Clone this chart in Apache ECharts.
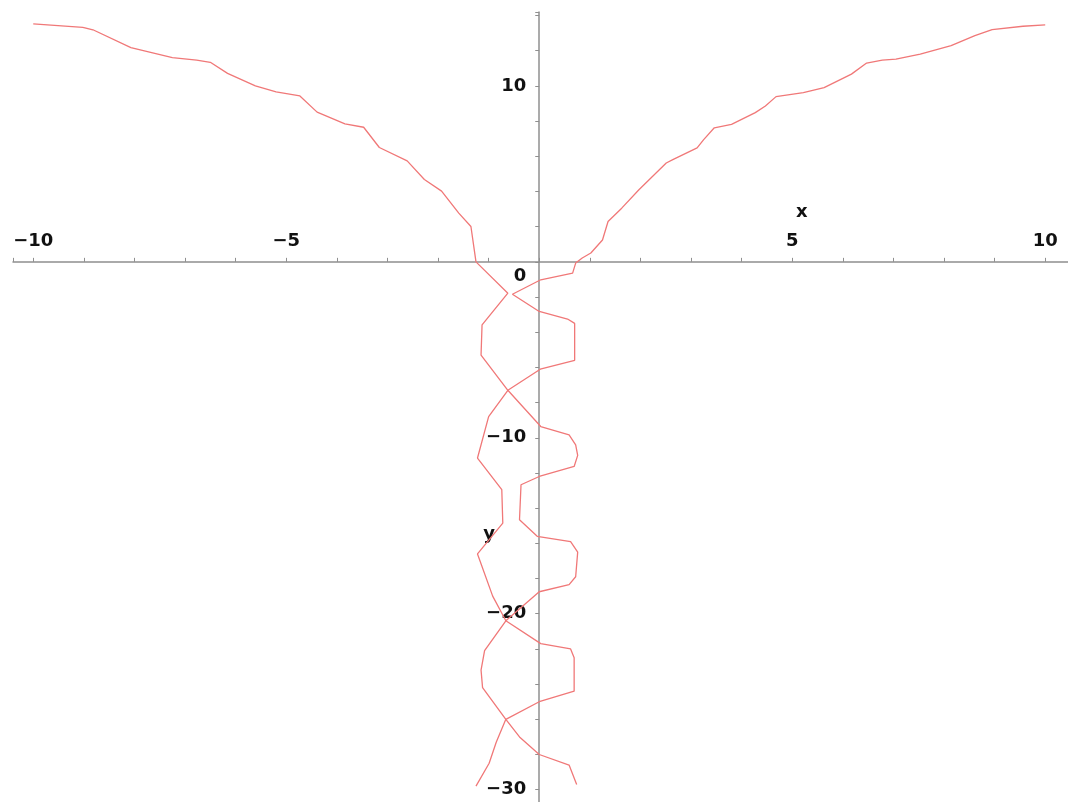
<!DOCTYPE html>
<html>
<head>
<meta charset="utf-8">
<script src="https://cdn.jsdelivr.net/npm/echarts@6/dist/echarts.min.js"></script>
<style>
  html, body { margin: 0; padding: 0; background: #fff; }
  #chart { width: 1068px; height: 802px; }
</style>
</head>
<body>
<div id="chart"></div>
<script>
// strand coming in from the upper left
const leftX = [-10, -9.02, -8.82, -8.07, -7.25, -6.77, -6.5, -6.16, -5.61, -5.2, -4.73, -4.39, -3.84, -3.47, -3.16, -2.61, -2.27, -1.93, -1.59, -1.35, -1.25, -0.62, -1.13, -1.15, -0.62, 0.03, 0.59, 0.72, 0.76, 0.69, 0.0, -0.36, -0.39, -0.04, 0.62, 0.76, 0.72, 0.59, 0.0, -0.66, -1.08, -1.15, -1.12, -0.66, -0.39, 0.0, 0.59, 0.74];
const leftY = [13.52, 13.33, 13.19, 12.18, 11.61, 11.47, 11.34, 10.71, 10.0, 9.66, 9.43, 8.51, 7.84, 7.65, 6.5, 5.74, 4.68, 4.02, 2.77, 2.01, 0.0, -1.78, -3.58, -5.3, -7.3, -9.36, -9.83, -10.4, -11.0, -11.63, -12.2, -12.67, -14.66, -15.6, -15.9, -16.5, -17.9, -18.35, -18.75, -20.4, -22.1, -23.2, -24.2, -26.0, -27.0, -28.0, -28.6, -29.7];

// strand coming in from the upper right
const rightX = [10, 9.56, 8.95, 8.61, 8.14, 7.53, 7.05, 6.78, 6.47, 6.17, 5.63, 5.22, 4.68, 4.47, 4.27, 3.8, 3.46, 3.25, 3.12, 2.64, 2.51, 1.97, 1.63, 1.36, 1.25, 1.02, 0.85, 0.72, 0.66, 0.03, -0.53, 0.0, 0.56, 0.7, 0.7, 0.02, -0.62, -1.0, -1.22, -0.74, -0.72, -1.22, -0.92, -0.66, 0.03, 0.62, 0.69, 0.69, 0.0, -0.66, -0.85, -0.99, -1.25];
const rightY = [13.47, 13.39, 13.2, 12.86, 12.29, 11.81, 11.52, 11.47, 11.3, 10.67, 9.9, 9.62, 9.39, 8.86, 8.48, 7.81, 7.62, 6.95, 6.48, 5.81, 5.62, 4.1, 3.05, 2.29, 1.24, 0.5, 0.22, -0.07, -0.64, -1.02, -1.84, -2.82, -3.25, -3.5, -5.6, -6.1, -7.3, -8.8, -11.15, -12.95, -14.85, -16.6, -19.0, -20.4, -21.7, -22.0, -22.5, -24.4, -25.0, -26.0, -27.3, -28.5, -29.8];

// axis ranges
const xRange = [-10.4, 10.45];
const yRange = [-30.7, 14.2];

const toPoints = (xs, ys) => xs.map((x, i) => [x, ys[i]]);
const minus = v => String(v).replace('-', '\u2212');

const grid = { left: 13, right: 0, top: 12, bottom: 0 };
const axisColor = '#8f8f8f';
const curveColor = '#f07878';
const font = { fontFamily: 'DejaVu Sans', fontWeight: 'bold', fontSize: 18, color: '#111' };

const chart = echarts.init(document.getElementById('chart'));

chart.setOption({
  animation: false,
  grid: Object.assign({ containLabel: false, outerBoundsMode: 'none' }, grid),
  xAxis: {
    type: 'value',
    min: xRange[0],
    max: xRange[1],
    position: 'top',
    splitLine: { show: false },
    axisLine: { onZero: false, lineStyle: { color: axisColor, width: 1.5 } },
    axisTick: { length: 4, lineStyle: { color: axisColor } },
    minorTick: { show: true, splitNumber: 5, length: 4, lineStyle: { color: axisColor } },
    axisLabel: Object.assign({}, font, {
      margin: 12,
      showMinLabel: false,
      showMaxLabel: false,
      formatter: v => (v === 0 ? '' : minus(v))
    }),
    name: '{n|x}',
    nameLocation: 'end',
    nameGap: -272,
    nameTextStyle: { rich: { n: Object.assign({}, font, { padding: [0, 0, 100, 0] }) } }
  },
  yAxis: {
    type: 'value',
    min: yRange[0],
    max: yRange[1],
    position: 'left',
    splitLine: { show: false },
    axisLine: { onZero: false, lineStyle: { color: axisColor, width: 1.5 } },
    axisTick: { length: 4, lineStyle: { color: axisColor } },
    minorTick: { show: true, splitNumber: 5, length: 4, lineStyle: { color: axisColor } },
    axisLabel: Object.assign({}, font, {
      margin: 13,
      showMinLabel: false,
      showMaxLabel: false,
      formatter: v => (v === 0 ? '{z|0}' : minus(v)),
      rich: { z: Object.assign({}, font, { padding: [28, 0, 0, 0] }) }
    }),
    name: 'y',
    nameLocation: 'start',
    nameGap: -277,
    nameTextStyle: Object.assign({}, font, { padding: [0, 100, 0, 0] })
  },
  series: [
    {
      type: 'line',
      data: toPoints(leftX, leftY),
      showSymbol: false,
      lineStyle: { color: curveColor, width: 1.3 },
      z: 3
    },
    {
      type: 'line',
      data: toPoints(rightX, rightY),
      showSymbol: false,
      lineStyle: { color: curveColor, width: 1.3 },
      z: 3
    }
  ]
});

// move both axes so they cross at the origin, labels included
const origin = chart.convertToPixel({ gridIndex: 0 }, [0, 0]);
chart.setOption({
  xAxis: { offset: grid.top - origin[1] },
  yAxis: { offset: grid.left - origin[0] }
});
</script>
</body>
</html>
